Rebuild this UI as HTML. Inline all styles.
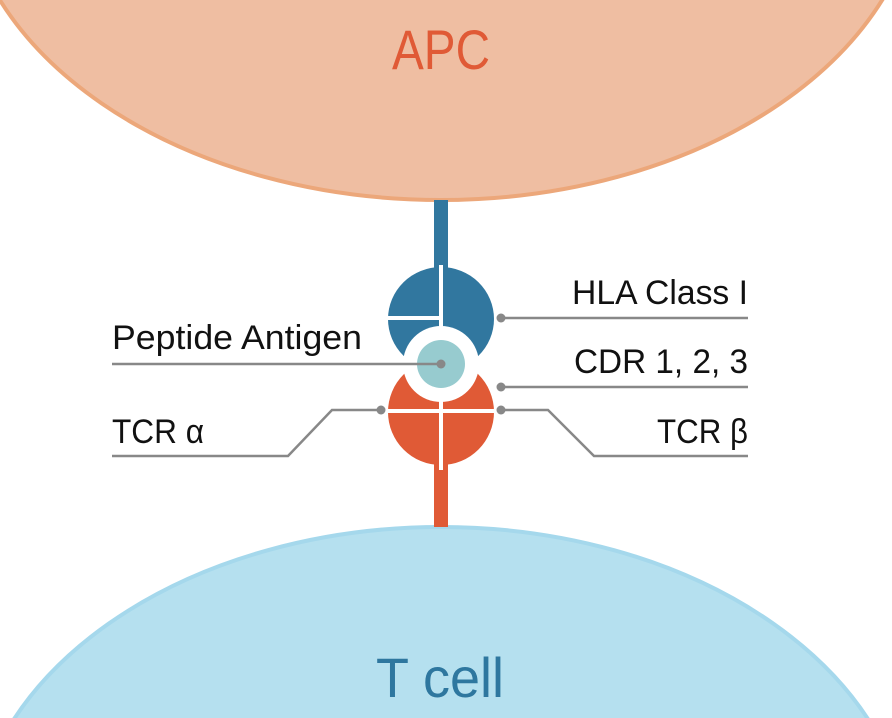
<!DOCTYPE html>
<html><head><style>
html,body{margin:0;padding:0;background:#fff;width:892px;height:718px;overflow:hidden}
svg{display:block}
</style></head><body>
<svg width="892" height="718" viewBox="0 0 892 718" xmlns="http://www.w3.org/2000/svg">
<ellipse cx="441" cy="-130" rx="480" ry="330" fill="#efbea2" stroke="#eca77a" stroke-width="4"/>
<ellipse cx="441" cy="857" rx="470" ry="330" fill="#b5e0ef" stroke="#a5d8ec" stroke-width="4"/>
<text x="392" y="69" textLength="98" lengthAdjust="spacingAndGlyphs" font-family="Liberation Sans, sans-serif" font-size="56" fill="#e05a36">APC</text>
<text x="376" y="697" textLength="128" lengthAdjust="spacingAndGlyphs" font-family="Liberation Sans, sans-serif" font-size="56" fill="#2e779f">T cell</text>
<rect x="434" y="200" width="14" height="75" fill="#31779f"/>
<rect x="434" y="455" width="14" height="72" fill="#e05a36"/>
<ellipse cx="441" cy="319" rx="53" ry="52" fill="#31779f"/>
<ellipse cx="441" cy="412" rx="53" ry="53" fill="#e05a36"/>
<line x1="441" y1="265" x2="441" y2="470" stroke="#fff" stroke-width="4"/>
<line x1="385" y1="318" x2="439" y2="318" stroke="#fff" stroke-width="4"/>
<line x1="385" y1="411" x2="497" y2="411" stroke="#fff" stroke-width="4"/>
<circle cx="441" cy="364" r="38" fill="#fff"/>
<circle cx="441" cy="364" r="24" fill="#97cbcf"/>
<g stroke="#888" stroke-width="2.5" fill="none">
<line x1="501" y1="318" x2="748" y2="318"/>
<line x1="501" y1="387" x2="748" y2="387"/>
<polyline points="501,410 548,410 594,456 748,456"/>
<polyline points="381,410 332,410 288,456 112,456"/>
<line x1="112" y1="364" x2="441" y2="364"/>
</g>
<g fill="#888">
<circle cx="501" cy="318" r="4.5"/><circle cx="501" cy="387" r="4.5"/><circle cx="501" cy="410" r="4.5"/><circle cx="381" cy="410" r="4.5"/><circle cx="441" cy="364" r="4.5"/>
</g>
<g font-family="Liberation Sans, sans-serif" font-size="34" fill="#111">
<text x="572" y="304" textLength="176" lengthAdjust="spacingAndGlyphs">HLA Class I</text>
<text x="574" y="373" textLength="174" lengthAdjust="spacingAndGlyphs">CDR 1, 2, 3</text>
<text x="657" y="443" textLength="91" lengthAdjust="spacingAndGlyphs">TCR β</text>
<text x="112" y="349" textLength="250" lengthAdjust="spacingAndGlyphs">Peptide Antigen</text>
<text x="112" y="443" textLength="92" lengthAdjust="spacingAndGlyphs">TCR α</text>
</g>
</svg>
</body></html>
